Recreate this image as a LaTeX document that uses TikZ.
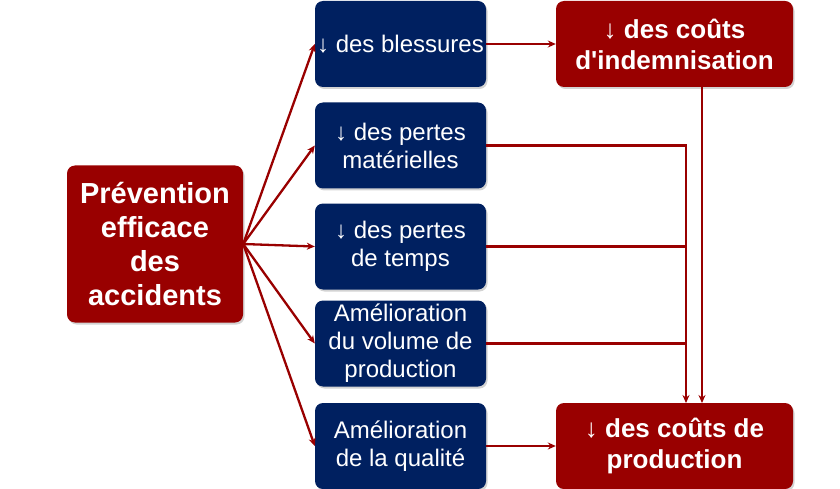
\documentclass[tikz,border=0pt]{standalone}
\usepackage{fontspec}
\setmainfont{Liberation Sans}[Ligatures=TeXOff]
\usetikzlibrary{arrows.meta,shadows}
\definecolor{darkred}{RGB}{153,0,0}
\definecolor{navy}{RGB}{0,32,96}
\tikzset{
  box/.style={rounded corners=8pt, text=white, align=center, inner sep=2pt,
    drop shadow={shadow xshift=1.5pt, shadow yshift=-2pt, opacity=0.35}},
  redbox/.style={box, fill=darkred},
  bluebox/.style={box, fill=navy, minimum width=171pt, minimum height=86pt,
    font=\fontsize{24}{28}\selectfont},
  link/.style={draw=darkred, line width=2.3pt},
}
\begin{document}
\begin{tikzpicture}[x=1pt, y=-1pt, >={Stealth[length=8pt,width=7pt]}]
  \useasboundingbox (0,0) rectangle (840,489);
  % cause
  \node[redbox, minimum width=176pt, minimum height=157pt,
    font=\bfseries\fontsize{29}{34}\selectfont] (prev) at (155,244)
    {Prévention\\efficace\\des\\accidents};

  % effects (middle column)
  \node[bluebox] (bless)       at (400.5,44)  {↓ des blessures};
  \node[bluebox] (pertesmat)   at (400.5,145.5) {↓ des pertes\\matérielles};
  \node[bluebox] (pertestemps) at (400.5,246.5) {↓ des pertes\\de temps};
  \node[bluebox] (volume)      at (400.5,343.5) {Amélioration\\du volume de\\production};
  \node[bluebox] (qualite)     at (400.5,446) {Amélioration\\de la qualité};

  % costs (right column)
  \node[redbox, minimum width=237pt, minimum height=86pt,
    font=\bfseries\fontsize{26}{31}\selectfont] (indem) at (674.5,44)
    {↓ des coûts\\d'indemnisation};
  \node[redbox, minimum width=237pt, minimum height=86pt,
    font=\bfseries\fontsize{26}{31}\selectfont] (prod) at (674.5,446)
    {↓ des coûts de\\production};

  % fan of arrows from the cause
  \foreach \n in {bless,pertesmat,pertestemps,volume,qualite}
    \draw[link,->] (prev.east) -- (\n.west);

  % joins into the costs
  \coordinate (join) at (686,403);
  \coordinate (drop) at (702,403);
  \draw[link,->] (bless.east) -- (indem.west);
  \draw[link,->] (pertesmat.east) -| (join);
  \draw[link] (pertestemps.east) -- (pertestemps.east -| join);
  \draw[link] (volume.east) -- (volume.east -| join);
  \draw[link,->] (indem.south -| drop) -- (drop);
  \draw[link,->] (qualite.east) -- (prod.west);
\end{tikzpicture}
\end{document}
